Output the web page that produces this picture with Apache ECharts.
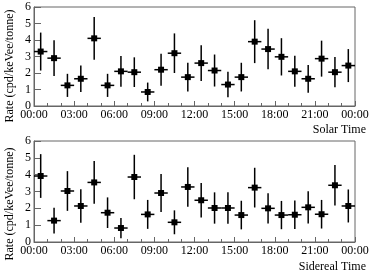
<!DOCTYPE html>
<html><head><meta charset="utf-8">
<script src="https://cdn.jsdelivr.net/npm/echarts@6/dist/echarts.min.js"></script>
<style>html,body{margin:0;padding:0;background:#fff}#c{width:374px;height:276px}</style>
</head><body><div id="c"></div>
<script>
const binCenters = [0.5,1.5,2.5,3.5,4.5,5.5,6.5,7.5,8.5,9.5,10.5,11.5,12.5,13.5,14.5,15.5,16.5,17.5,18.5,19.5,20.5,21.5,22.5,23.5];
const solarRate = [3.3,2.9,1.25,1.65,4.1,1.25,2.1,2.05,0.85,2.2,3.2,1.75,2.6,2.15,1.3,1.75,3.9,3.45,2.98,2.1,1.65,2.87,2.05,2.45];
const solarErr  = [1.15,1.08,0.7,0.8,1.3,0.7,0.93,0.9,0.57,0.97,1.2,0.87,1.08,0.97,0.77,0.87,1.3,1.23,1.13,0.94,0.84,1.09,0.92,1.0];
const siderealRate = [3.92,1.27,3.03,2.14,3.54,1.74,0.83,3.86,1.64,2.91,1.17,3.27,2.48,2.02,2.02,1.6,3.23,2.0,1.6,1.62,2.06,1.65,3.37,2.14];
const siderealErr  = [1.3,0.77,1.18,0.99,1.27,0.91,0.6,1.32,0.86,1.13,0.71,1.17,1.03,0.93,0.93,0.85,1.18,0.9,0.84,0.85,0.96,0.85,1.2,0.98];
const hourTickLabels = ['00:00','03:00','06:00','09:00','12:00','15:00','18:00','21:00','00:00'];
const yAxisTitle = 'Rate (cpd/keVee/tonne)';
const xTitles = ['Solar Time','Sidereal Time'];

const FONT = 'Liberation Serif';
const FRAME = '#666';

function renderErr(params, api){
  const x = api.value(0), y = api.value(1), e = api.value(2);
  const l = api.coord([x-0.5, y]), r = api.coord([x+0.5, y]);
  const t = api.coord([x, y+e]), b = api.coord([x, y-e]);
  const c = api.coord([x, y]);
  const st = {stroke:'#000', lineWidth:1.5};
  return {type:'group', children:[
    {type:'line', shape:{x1:l[0],y1:l[1],x2:r[0],y2:r[1]}, style:st},
    {type:'line', shape:{x1:t[0],y1:t[1],x2:b[0],y2:b[1]}, style:st},
    {type:'rect', shape:{x:c[0]-3,y:c[1]-3,width:6,height:6}, style:{fill:'#000'}}
  ]};
}

function xAxisCfg(i){
  return {gridIndex:i, type:'value', min:0, max:24, interval:3,
    axisLine:{onZero:false, lineStyle:{color:FRAME,width:1}},
    axisTick:{inside:true, length:5, lineStyle:{color:FRAME}},
    minorTick:{show:true, splitNumber:3, length:3, lineStyle:{color:FRAME}},
    splitLine:{show:false},
    axisLabel:{margin:3, color:'#000', fontFamily:FONT, fontSize:12, formatter:v=>hourTickLabels[Math.round(v/3)]}};
}
function yAxisCfg(i){
  return {gridIndex:i, type:'value', min:0, max:6, interval:1,
    axisLine:{show:true, lineStyle:{color:FRAME,width:1}},
    axisTick:{inside:true, length:7, lineStyle:{color:FRAME}},
    splitLine:{show:false},
    axisLabel:{margin:3, color:'#000', fontFamily:FONT, fontSize:12}};
}
function series(i, rate, err){
  return {type:'custom', xAxisIndex:i, yAxisIndex:i, renderItem:renderErr,
    data: binCenters.map((h,k)=>[h, rate[k], err[k]]), animation:false, clip:false};
}

const chart = echarts.init(document.getElementById('c'));
chart.setOption({
  animation:false,
  backgroundColor:'#fff',
  grid:[
    {left:34, right:19, top:7, height:99, show:true, borderColor:FRAME, borderWidth:1},
    {left:34, right:19, top:141, height:101, show:true, borderColor:FRAME, borderWidth:1}
  ],
  xAxis:[xAxisCfg(0), xAxisCfg(1)],
  yAxis:[yAxisCfg(0), yAxisCfg(1)],
  series:[series(0, solarRate, solarErr), series(1, siderealRate, siderealErr)],
  graphic:[
    {type:'text', x:10, y:66, rotation:Math.PI/2, style:{text:yAxisTitle, font:'12px "Liberation Serif"', fill:'#000', align:'center', verticalAlign:'middle'}},
    {type:'text', x:10, y:204, rotation:Math.PI/2, style:{text:yAxisTitle, font:'12px "Liberation Serif"', fill:'#000', align:'center', verticalAlign:'middle'}},
    {type:'text', x:366, y:130, style:{text:xTitles[0], font:'12px "Liberation Serif"', fill:'#000', align:'right', verticalAlign:'middle'}},
    {type:'text', x:366, y:267, style:{text:xTitles[1], font:'12px "Liberation Serif"', fill:'#000', align:'right', verticalAlign:'middle'}}
  ]
});
</script></body></html>
